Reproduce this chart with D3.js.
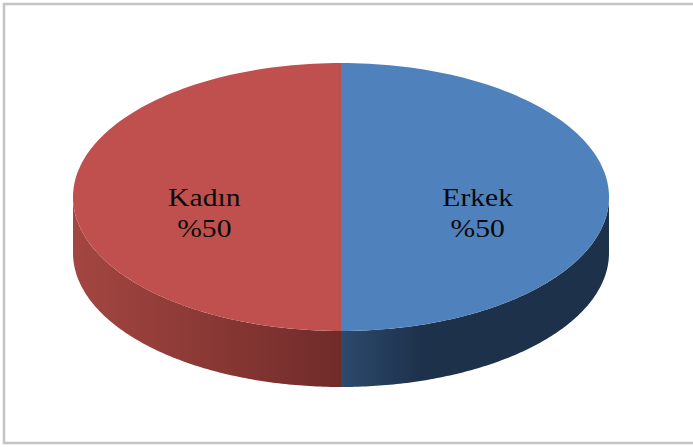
<!DOCTYPE html>
<html>
<head>
<meta charset="utf-8">
<script src="https://cdn.jsdelivr.net/npm/d3@7"></script>
<style>
  html, body { margin: 0; padding: 0; background: #fff; }
  svg { display: block; }
</style>
</head>
<body>
<svg id="chart" width="693" height="447"></svg>
<script>
// Data
const categories = ["Erkek", "Kadın"];
const values = [50, 50];
const percentLabels = ["%50", "%50"];
const topColors = ["#4F81BD", "#C0504D"];
const sideColorsNear = ["#2B4A6D", "#702B29"];
const sideColorsFar = ["#1E314B", "#A44641"];

const W = 693, H = 447;
const cx = 341, cy = 197, rx = 268, ry = 134, depth = 56;

const svg = d3.select("#chart");

// Frame
svg.append("rect")
  .attr("x", 4).attr("y", 4)
  .attr("width", 710).attr("height", 439)
  .attr("fill", "#fff")
  .attr("stroke", "#C4C4C4")
  .attr("stroke-width", 2.5);

const pie = d3.pie().sort(null).value(d => d.value);
const arcs = pie(categories.map((c, i) => ({ name: c, value: values[i], i })));

const px = a => cx + rx * Math.sin(a);
const py = (a, dy = 0) => cy - ry * Math.cos(a) + dy;

function ellipseArc(a0, a1, dy, steps = 120) {
  const pts = [];
  for (let k = 0; k <= steps; k++) {
    const a = a0 + (a1 - a0) * k / steps;
    pts.push([px(a), py(a, dy)]);
  }
  return pts;
}

const defs = svg.append("defs");

// Sides (front half only)
arcs.forEach(d => {
  const a0 = Math.max(d.startAngle, Math.PI / 2);
  const a1 = Math.min(d.endAngle, 3 * Math.PI / 2);
  if (a1 <= a0) return;
  const top = ellipseArc(a0, a1, 0);
  const bottom = ellipseArc(a1, a0, depth);
  const pts = top.concat(bottom);
  const xs = pts.map(p => p[0]);
  const xNear = cx;
  const xFar = d.data.i === 0 ? d3.max(xs) : d3.min(xs);
  const gid = "side" + d.data.i;
  const g = defs.append("linearGradient")
    .attr("id", gid)
    .attr("gradientUnits", "userSpaceOnUse")
    .attr("x1", xNear).attr("y1", 0)
    .attr("x2", xFar).attr("y2", 0);
  if (d.data.i === 0) {
    g.append("stop").attr("offset", 0).attr("stop-color", sideColorsNear[0]);
    g.append("stop").attr("offset", 0.3).attr("stop-color", sideColorsFar[0]);
    g.append("stop").attr("offset", 1).attr("stop-color", sideColorsFar[0]);
  } else {
    g.append("stop").attr("offset", 0).attr("stop-color", sideColorsNear[1]);
    g.append("stop").attr("offset", 1).attr("stop-color", sideColorsFar[1]);
  }
  svg.append("path")
    .attr("d", d3.line()(pts) + "Z")
    .attr("fill", `url(#${gid})`);
});

// Top faces
arcs.forEach(d => {
  const pts = [[cx, cy]].concat(ellipseArc(d.startAngle, d.endAngle, 0));
  svg.append("path")
    .attr("d", d3.line()(pts) + "Z")
    .attr("fill", topColors[d.data.i]);
});

// Labels
const labelFrac = 0.51;
arcs.forEach(d => {
  const mid = (d.startAngle + d.endAngle) / 2;
  const lx = cx + rx * labelFrac * Math.sin(mid);
  const ly = cy - ry * labelFrac * Math.cos(mid);
  const g = svg.append("g")
    .attr("transform", `translate(${lx},${ly}) scale(1.14,1)`);
  [d.data.name, percentLabels[d.data.i]].forEach((t, k) => {
    g.append("text")
      .attr("x", 0).attr("y", 8.5 + 32 * k)
      .attr("text-anchor", "middle")
      .attr("font-family", "'Liberation Serif', 'Times New Roman', serif")
      .attr("font-size", 26)
      .attr("fill", "#0a0a0a")
      .text(t);
  });
});
</script>
</body>
</html>
